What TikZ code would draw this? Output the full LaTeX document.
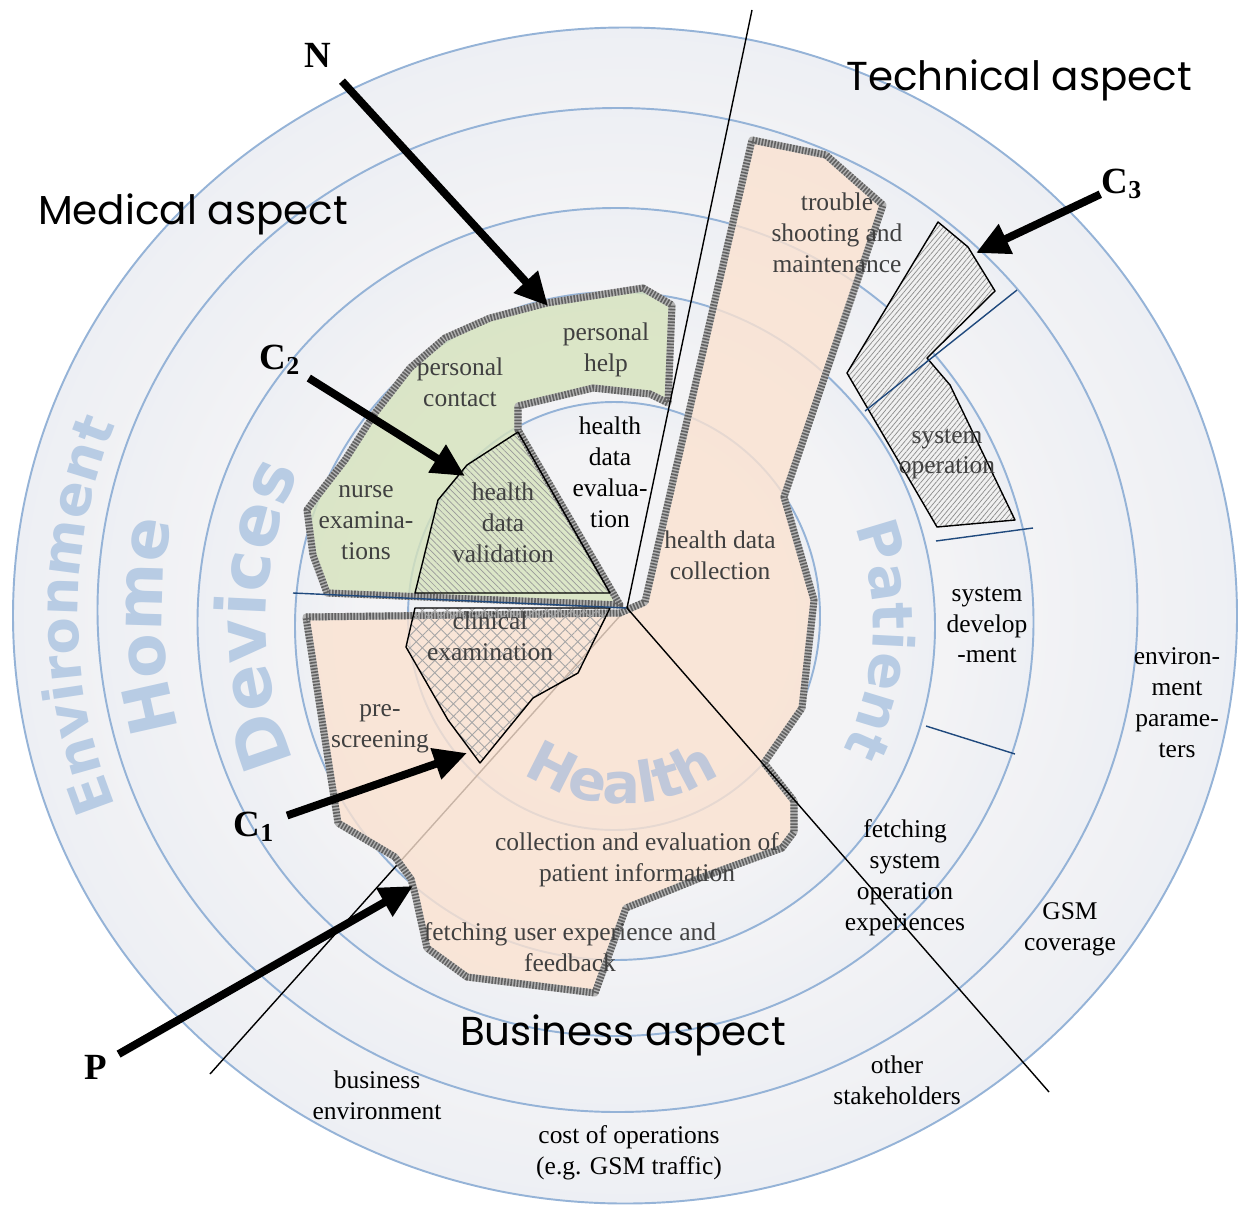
\documentclass[tikz,border=0pt]{standalone}
\usepackage{fontspec}
\setmainfont{Liberation Serif}
\newfontfamily\aspectfont{Poppins}
\newfontfamily\ringfont{DejaVu Sans}
\usetikzlibrary{arrows.meta, patterns.meta, decorations.text}
\definecolor{ringline}{RGB}{149,179,215}
\definecolor{ringgray}{RGB}{243,243,245}
\definecolor{ringblue}{RGB}{207,220,237}
\definecolor{labelblue}{RGB}{184,204,228}
\definecolor{healthblue}{RGB}{192,200,218}
\definecolor{tickblue}{RGB}{31,73,125}
\definecolor{peach}{RGB}{251,226,208}
\definecolor{sage}{RGB}{214,227,188}
\pgfdeclareradialshading{ringshade}{\pgfpoint{0bp}{0bp}}{color(0bp)=(ringgray); color(20bp)=(ringgray); color(50bp)=(ringblue)}
\tikzstyle{ring} = [draw=ringline, line width=1.1pt, shade, shading=ringshade]
\tikzstyle{tick} = [draw=tickblue, line width=0.8pt]
\tikzstyle{sector} = [draw=black, line width=0.8pt]
\tikzstyle{border} = [draw=black!30, line width=4pt, line join=round, fill opacity=0.8,
  postaction={draw=black!62, line width=4pt, dash pattern=on 0.9pt off 0.9pt}]
\tikzstyle{peachshape} = [border, fill=peach]
\tikzstyle{sageshape} = [border, fill=sage]
\tikzstyle{hatched} = [draw=black, line width=0.8pt, line join=round]
\tikzstyle{txt} = [font=\fontsize{14.5}{17.6}\selectfont, align=center, inner sep=0pt]
\tikzstyle{intxt} = [txt, text=black!75]
\tikzstyle{aspecttext} = [font=\aspectfont\fontsize{23}{23}\selectfont, inner sep=0pt]
\tikzstyle{marker} = [font=\bfseries\fontsize{21}{21}\selectfont, inner sep=0pt]
\tikzstyle{bigarrow} = [line width=4.5pt, -{Triangle[length=0.66cm, width=0.62cm]}]
\tikzstyle{ringword} = [decorate, decoration={text along path, text align=center, text color=labelblue, text={#1}}]

\begin{document}
\begin{tikzpicture}[x=0.02cm, y=-0.02cm]
\useasboundingbox (0,0) rectangle (1240,1207);

\path[ring] (625,615.5) ellipse[x radius=612, y radius=588];
\path[ring] (617.5,610) ellipse[x radius=520, y radius=502];
\path[ring] (615.5,622) ellipse[x radius=418, y radius=414];
\path[ring] (615,626) ellipse[x radius=320, y radius=334];
\path[ring] (614,616) ellipse[x radius=206, y radius=214];

\coordinate (hub) at (627,608);
\coordinate (rimtech) at (752,10);
\coordinate (rimbiz) at (1049,1092);
\coordinate (rimmed) at (210,1074);
\coordinate (rimleft) at (293,593);

\path[ringword={|\ringfont\bfseries\fontsize{31}{31}\selectfont|Environment}]
  ({625+547*cos(150)},{615.5+525*sin(150)}) arc[start angle=150, end angle=210, x radius=547, y radius=525];
\path[ringword={|\ringfont\bfseries\fontsize{37}{37}\selectfont|Home}]
  ({617.5+455*cos(148)},{610+439*sin(148)}) arc[start angle=148, end angle=208, x radius=455, y radius=439];
\path[ringword={|\ringfont\bfseries\fontsize{39}{39}\selectfont|Devices}]
  ({615.5+350*cos(145)},{622+347*sin(145)}) arc[start angle=145, end angle=217, x radius=350, y radius=347];
\path[ringword={|\ringfont\bfseries\fontsize{32}{32}\selectfont|Patient}]
  ({615+258*cos(-40)},{626+268*sin(-40)}) arc[start angle=-40, end angle=46, x radius=258, y radius=268];

\draw[sector] (rimmed) -- (hub);

\path[peachshape] (306,617) -- (620,613) -- (645,602) -- (752,140) -- (826,155) -- (883,205)
  -- (784,497) -- (814,600) -- (802,708) -- (764,763) -- (794,801) -- (794,832) -- (782,848)
  -- (700,878) -- (626,908) -- (595,993) -- (467,977) -- (427,948) -- (415,894) -- (411,879)
  -- (395,857) -- (338,823) -- cycle;
\path[sageshape] (327,593) -- (313,555) -- (307,510) -- (318,495) -- (345,460) -- (375,413)
  -- (410,368) -- (445,338) -- (490,318) -- (547,303) -- (643,288) -- (672,305) -- (668,403)
  -- (650,394) -- (593,388) -- (518,406) -- (518,430) -- (620,605) -- cycle;

\path[decorate, decoration={text along path, text align=center, text color=healthblue,
  text={|\ringfont\bfseries\fontsize{32}{32}\selectfont|Health}}]
  ({622+180*cos(140)},{616+188*sin(140)}) arc[start angle=140, end angle=40, x radius=180, y radius=188];

\path[hatched, pattern={Lines[angle=-45, distance=2.5pt, line width=0.4pt]}, pattern color=black!40]
  (518,432) -- (467,465) -- (438,500) -- (415,593) -- (610,593) -- cycle;
\path[hatched, preaction={pattern={Lines[angle=45, distance=5pt, line width=0.5pt]}, pattern color=black!35},
  pattern={Lines[angle=-45, distance=5pt, line width=0.5pt]}, pattern color=black!35]
  (415,608) -- (610,608) -- (578,673) -- (533,698) -- (480,763) -- (448,720) -- (406,647) -- cycle;
\path[hatched, preaction={fill=black!6}, pattern={Lines[angle=50, distance=2.2pt, line width=0.4pt]}, pattern color=black!45]
  (938,222) -- (968,247) -- (995,291) -- (927,358) -- (950,385) -- (1015,520) -- (937,527) -- (847,373) -- cycle;

\draw[tick] (rimleft) -- (hub);
\draw[tick] (865,411) -- (1017,290);
\draw[tick] (936,541) -- (1033,528);
\draw[tick] (926,726) -- (1015,754);

\draw[sector] (hub) -- (rimtech);
\draw[sector] (hub) -- (rimbiz);

\node (trouble) [intxt] at (837,233) {trouble\\shooting and\\maintenance};
\node (help) [intxt] at (606,350) {personal\\help};
\node (contact) [intxt] at (460,382) {personal\\contact};
\node (evaluation) [txt] at (610,472) {health\\data\\evalua-\\tion};
\node (nurse) [intxt] at (366,523) {nurse\\examina-\\tions};
\node (validation) [intxt] at (503,523) {health\\data\\validation};
\node (collection) [intxt] at (720,555) {health data\\collection};
\node (operation) [intxt] at (947,454) {system\\operation};
\node (development) [txt] at (987,625) {system\\develop\\-ment};
\node (parameters) [txt] at (1177,703) {environ-\\ment\\parame-\\ters};
\node (clinical) [intxt] at (490,636) {clinical\\examination};
\node (prescreening) [intxt] at (380,729) {pre-\\screening};
\node (patientinfo) [intxt] at (637,860) {collection and evaluation of\\patient information};
\node (feedback) [intxt] at (570,947) {fetching user experience and\\feedback};
\node (experiences) [txt] at (905,878) {fetching\\system\\operation\\experiences};
\node (gsm) [txt] at (1070,929) {GSM\\coverage};
\node (stakeholders) [txt] at (897,1080) {other\\stakeholders};
\node (business) [txt] at (377,1095) {business\\environment};
\node (cost) [txt] at (629,1153) {cost of operations\\(e.g. GSM traffic)};

\node (medical) [aspecttext] at (193,214) {Medical aspect};
\node (technical) [aspecttext] at (1019,80) {Technical aspect};
\node (businessaspect) [aspecttext] at (623,1035) {Business aspect};

\node (lblN) [marker] at (318,55) {N};
\node (lblC2) [marker] at (280,360) {C\textsubscript{2}};
\node (lblC3) [marker] at (1122,184) {C\textsubscript{3}};
\node (lblC1) [marker] at (254,827) {C\textsubscript{1}};
\node (lblP) [marker] at (96,1067) {P};

\coordinate (tipN) at (548,306);
\coordinate (tipC2) at (465,476);
\coordinate (tipC3) at (976,253);
\coordinate (tipC1) at (467,753);
\coordinate (tipP) at (413,886);

\draw[bigarrow, shorten <=0.71cm] (lblN.center) -- (tipN);
\draw[bigarrow, shorten <=0.68cm] (lblC2.center) -- (tipC2);
\draw[bigarrow, shorten <=0.48cm] (lblC3.center) -- (tipC3);
\draw[bigarrow, shorten <=0.7cm] (lblC1.center) -- (tipC1);
\draw[bigarrow, shorten <=0.52cm] (lblP.center) -- (tipP);
\end{tikzpicture}
\end{document}
